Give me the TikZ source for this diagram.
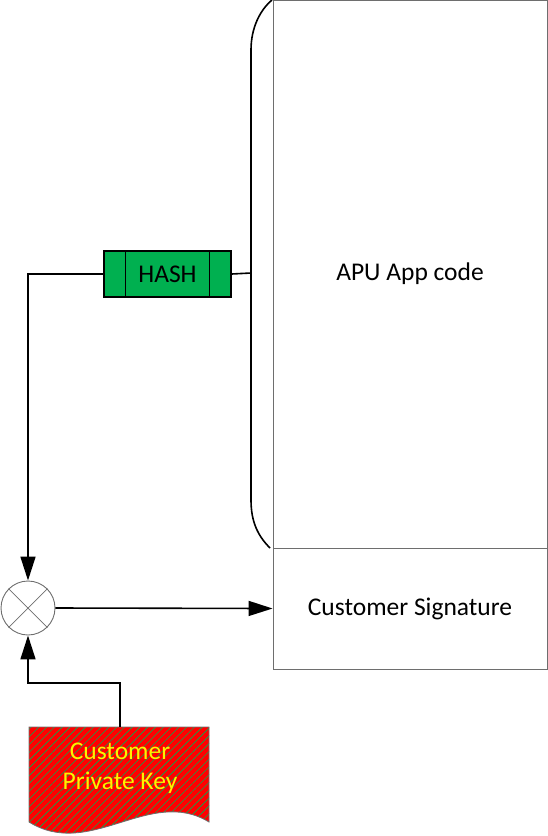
\documentclass[tikz,border=0pt]{standalone}
\usepackage{fontspec}
\newfontfamily\calibri{Carlito}
\usetikzlibrary{arrows.meta,patterns.meta}
\definecolor{hashgreen}{RGB}{0,176,80}
\definecolor{boxgray}{RGB}{110,110,110}
\begin{document}
\begin{tikzpicture}[x=1pt,y=-1pt,
  font=\calibri\fontsize{25.5}{30}\selectfont,
  conn/.style={line width=1.6pt},
  tip/.style={-{Triangle[length=24pt,width=15pt]}},
  block/.style={draw=boxgray, line width=0.9pt, rectangle, inner sep=0pt}]
\useasboundingbox (0,0) rectangle (548,836);
% memory image
\node[block, minimum width=274, minimum height=548] (app) at (410,274){APU App code};
\node[block, minimum width=274, minimum height=121] (sig) at (410,608.5){Customer Signature};
\draw[line width=1.6pt] (272,0) .. controls (260,10) and (251,28) .. (251,50) -- (251,500) .. controls (251,522) and (258,536) .. (270,548);
\coordinate (brc) at (251,273);
% hash
\node[rectangle, draw, line width=1.4pt, fill=hashgreen, minimum width=127, minimum height=46, inner sep=0pt] (hash) at (167.5,274){HASH};
\draw[line width=1.4pt] ([xshift=22pt]hash.north west) -- ([xshift=22pt]hash.south west);
\draw[line width=1.4pt] ([xshift=-22pt]hash.north east) -- ([xshift=-22pt]hash.south east);
\draw[conn] (hash.east) -- (brc);
% multiplier
\node[circle, draw=boxgray, line width=0.9pt, minimum size=54, inner sep=0pt] (mul) at (28,608){};
\draw[boxgray, line width=0.7pt] (mul.north west) -- (mul.south east);
\draw[boxgray, line width=0.7pt] (mul.north east) -- (mul.south west);
% private key
\fill[red] (29,727) -- (209,727) -- (209,822) .. controls (150,786) and (90,860) .. (29,822) -- cycle;
\fill[pattern={Lines[angle=45, distance=5.5pt, line width=0.6pt]}, pattern color=hashgreen] (29,727) -- (209,727) -- (209,822) .. controls (150,786) and (90,860) .. (29,822) -- cycle;
\draw[boxgray, line width=0.8pt] (29,727) -- (209,727) -- (209,822) .. controls (150,786) and (90,860) .. (29,822) -- cycle;
\node[align=center, text=yellow] (key) at (120,768){Customer\\Private Key};
\coordinate (keytop) at (120,727);
% connectors
\draw[conn, tip] (hash.west) -| (mul.north);
\draw[conn, tip] (keytop) -- ++(0,-44) -| (mul.south);
\draw[conn, tip] (mul.east) -- (sig.west);
\end{tikzpicture}
\end{document}
